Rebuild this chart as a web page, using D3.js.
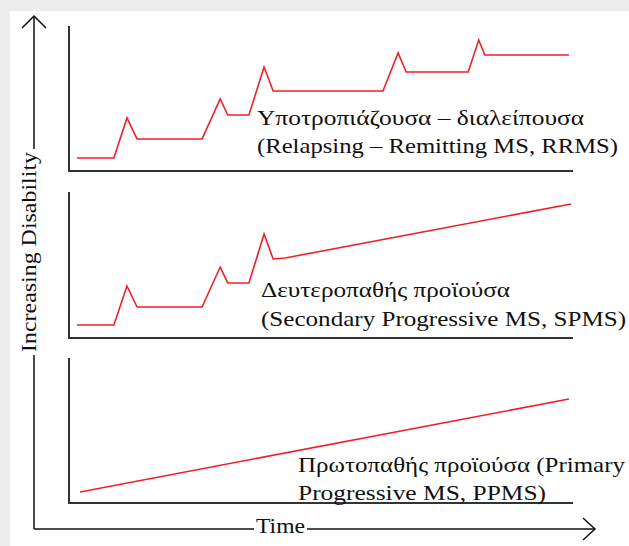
<!DOCTYPE html>
<html>
<head>
<meta charset="utf-8">
<script src="https://cdn.jsdelivr.net/npm/d3@7"></script>
<style>
  html, body { margin: 0; padding: 0; background: #fff; }
  svg { display: block; }
  text { font-family: "Liberation Serif"; }
</style>
</head>
<body>
<script>
// ---------- DATA ----------
const timeDomain = [0, 100];
const disabilityDomain = [0, 100];

// Relapsing-Remitting MS
const rrmsTime       = [1.6, 8.9, 11.5, 13.5, 26.4, 30.0, 31.5, 35.7, 38.7, 40.5, 62.3, 65.3, 66.9, 79.2, 81.3, 82.5, 99.2];
const rrmsDisability = [9.0, 9.0, 36.6, 22.1, 22.1, 49.7, 38.6, 38.6, 71.7, 55.2, 55.2, 81.4, 68.3, 68.3, 90.3, 80.0, 80.0];

// Secondary Progressive MS
const spmsTime       = [1.6, 8.9, 11.5, 13.5, 26.4, 30.0, 31.5, 35.7, 38.7, 40.5, 42.9, 99.6];
const spmsDisability = [8.9, 8.9, 35.6, 21.2, 21.2, 48.6, 37.7, 37.7, 71.2, 54.1, 54.8, 91.8];

// Primary Progressive MS
const ppmsTime       = [2.2, 99.2];
const ppmsDisability = [7.6, 71.7];

const panelLabels = [
  ["Υποτροπιάζουσα – διαλείπουσα", "(Relapsing – Remitting MS, RRMS)"],
  ["Δευτεροπαθής προϊούσα", "(Secondary Progressive MS, SPMS)"],
  ["Πρωτοπαθής προϊούσα (Primary", "Progressive MS, PPMS)"]
];
const xAxisLabel = "Time";
const yAxisLabel = "Increasing Disability";

// ---------- LAYOUT ----------
const W = 629, H = 546;
const svg = d3.select("body").append("svg").attr("width", W).attr("height", H);

// window frame
svg.append("rect").attr("x", 0).attr("y", 0).attr("width", W).attr("height", H).attr("fill", "#ededed");
svg.append("rect").attr("x", 10).attr("y", 11).attr("width", W - 10).attr("height", H - 11).attr("fill", "#ffffff");

const FONT = "Liberation Serif";
const FS = 22;
const red = "#f0202a";
const axisCol = "#333333";
const textCol = "#111111";

const x = d3.scaleLinear().domain(timeDomain).range([69, 573]);

const panels = [
  { top: 26,  bottom: 171, t: rrmsTime, d: rrmsDisability, lx: 257, ly: [125, 153], lw: [327, 361] },
  { top: 192, bottom: 338, t: spmsTime, d: spmsDisability, lx: 261, ly: [297, 326], lw: [249, 365] },
  { top: 358, bottom: 503, t: ppmsTime, d: ppmsDisability, lx: 298, ly: [472, 500], lw: [327, 248] }
];

function addText(parent, str, xx, yy, width) {
  const t = parent.append("text").attr("x", xx).attr("y", yy)
    .style("font-family", FONT).style("font-size", FS + "px").attr("fill", textCol).text(str);
  if (width) t.attr("textLength", width).attr("lengthAdjust", "spacingAndGlyphs");
  return t;
}

panels.forEach((p, i) => {
  const y = d3.scaleLinear().domain(disabilityDomain).range([p.bottom, p.top]);
  const g = svg.append("g");

  // axes (no ticks)
  const xAxis = d3.axisBottom(x).tickValues([]).tickSizeOuter(0);
  const yAxis = d3.axisLeft(y).tickValues([]).tickSizeOuter(0);
  g.append("g").attr("transform", `translate(0,${p.bottom})`).call(xAxis)
    .select(".domain").attr("stroke", axisCol).attr("stroke-width", 2)
    .attr("d", `M${x(timeDomain[0])},0H${x(timeDomain[1])}`);
  g.append("g").attr("transform", `translate(${x(timeDomain[0])},0)`).call(yAxis)
    .select(".domain").attr("stroke", axisCol).attr("stroke-width", 2)
    .attr("d", `M0,${y(disabilityDomain[0]) + 1}V${y(disabilityDomain[1])}`);

  const line = d3.line().x((d, k) => x(p.t[k])).y(d => y(d));
  g.append("path").datum(p.d).attr("d", line)
    .attr("fill", "none").attr("stroke", red).attr("stroke-width", 1.6)
    .attr("stroke-linejoin", "miter");

  panelLabels[i].forEach((s, k) => addText(g, s, p.lx, p.ly[k], p.lw[k]));
});

// ---------- OUTER AXES ----------
const ox = 34, oyTop = 16, oyBottom = 529, oxRight = 595;
const outer = svg.append("g").attr("stroke", "#111").attr("stroke-width", 1.5).attr("fill", "none");
outer.append("path").attr("d", `M${ox},${oyBottom}V${oyTop}`);
outer.append("path").attr("d", `M${ox - 12},${oyTop + 12}L${ox},${oyTop}L${ox + 12},${oyTop + 12}`);
outer.append("path").attr("d", `M${ox},${oyBottom}H${oxRight}`);
outer.append("path").attr("d", `M${oxRight - 12},${oyBottom - 11}L${oxRight},${oyBottom}L${oxRight - 12},${oyBottom + 11}`);

// background gaps for axis labels
const timeGap = svg.append("rect").attr("fill", "#fff");
const yGap = svg.append("rect").attr("fill", "#fff");

// Time label
const tl = addText(svg, xAxisLabel, 256, 533, 49);
const tb = tl.node().getBBox();
timeGap.attr("x", tb.x - 2).attr("y", oyBottom - 2).attr("width", tb.width + 4).attr("height", 4);

// Y label rotated
const yl = svg.append("text").attr("transform", `translate(35.5,352) rotate(-90)`)
  .style("font-family", FONT).style("font-size", FS + "px").attr("fill", textCol)
  .attr("textLength", 200).attr("lengthAdjust", "spacingAndGlyphs").text(yAxisLabel);
yGap.attr("x", ox - 2).attr("y", 352 - 200 - 3).attr("width", 4).attr("height", 206);
</script>
</body>
</html>
